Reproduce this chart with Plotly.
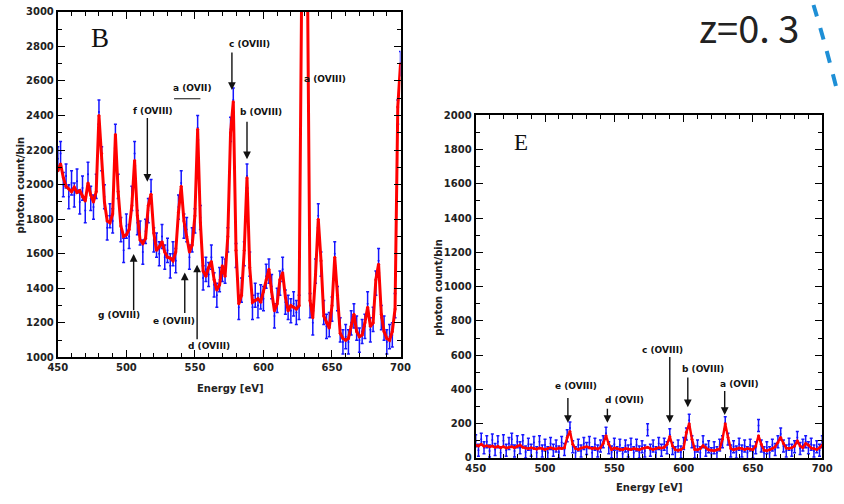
import numpy as np
import plotly.graph_objects as go

# ---------------- data ----------------
energy = list(range(450, 701, 2))  # bin centres [eV]

model_B = [2080, 2120, 2040, 1990, 1975, 1960, 1985, 1955, 1965, 1930,
           1905, 2010, 1940, 1900, 1960, 2400, 2180, 1900, 1790, 1780,
           1830, 2290, 1960, 1760, 1700, 1710, 1740, 1880, 2140, 1820,
           1680, 1660, 1690, 1880, 1945, 1720, 1620, 1640, 1670, 1610,
           1580, 1575, 1560, 1610, 1840, 1990, 1790, 1700, 1610, 1650,
           1820, 2320, 1780, 1500, 1470, 1520, 1555, 1450, 1390, 1420,
           1530, 1470, 1700, 2300, 2480, 1620, 1310, 1360, 1620, 2040,
           1520, 1320, 1330, 1340, 1320, 1380, 1450, 1510, 1380, 1270,
           1310, 1450, 1490, 1350, 1270, 1300, 1290, 1280, 1300, 3300,
           5200, 3300, 1330, 1230, 1480, 1800, 1560, 1240, 1200, 1170,
           1300, 1580, 1360, 1140, 1110, 1100, 1110, 1180, 1250, 1150,
           1120, 1130, 1200, 1290, 1180, 1200, 1450, 1540, 1250, 1150,
           1110, 1100, 1150, 1280, 2450, 2700]

data_B = [2150, 2180, 2000, 2050, 1930, 2010, 1940, 2020, 1900, 1980,
          1850, 2060, 1920, 1870, 1990, 2420, 2150, 1930, 1750, 1820,
          1790, 2280, 1990, 1740, 1620, 1760, 1700, 1920, 2180, 1780,
          1720, 1610, 1730, 1850, 1960, 1680, 1650, 1600, 1700, 1580,
          1620, 1530, 1600, 1560, 1870, 2010, 1760, 1740, 1580, 1680,
          1790, 2330, 1810, 1460, 1510, 1480, 1580, 1420, 1360, 1450,
          1510, 1500, 1680, 2320, 2490, 1590, 1290, 1390, 1600, 2050,
          1540, 1290, 1360, 1300, 1350, 1340, 1470, 1500, 1410, 1240,
          1330, 1430, 1510, 1320, 1290, 1270, 1310, 1260, 1290, 3550,
          5150, 3650, 1300, 1200, 1500, 1820, 1540, 1260, 1180, 1190,
          1280, 1600, 1340, 1160, 1090, 1120, 1090, 1200, 1240, 1170,
          1100, 1150, 1180, 1310, 1160, 1220, 1430, 1560, 1230, 1170,
          1090, 1120, 1130, 1300, 2420, 2700]
err_B = 70

model_E = [75, 70, 80, 68, 72, 65, 70, 62, 68, 60,
           66, 58, 62, 66, 60, 70, 75, 62, 58, 55,
           60, 56, 52, 58, 55, 50, 56, 60, 55, 52,
           58, 55, 60, 120, 155, 80, 55, 50, 58, 62,
           66, 60, 55, 58, 52, 60, 85, 130, 80, 50,
           58, 55, 50, 48, 55, 52, 50, 55, 52, 48,
           55, 58, 62, 55, 50, 55, 60, 58, 62, 80,
           125, 70, 48, 45, 50, 60, 150, 200, 110, 50,
           48, 55, 72, 60, 48, 45, 42, 48, 52, 110,
           200, 120, 55, 48, 52, 58, 55, 50, 55, 52,
           48, 70, 130, 80, 45, 42, 48, 55, 65, 90,
           120, 85, 58, 55, 60, 70, 100, 70, 60, 85,
           75, 58, 55, 50, 60, 75]

data_E = [100, 45, 110, 60, 95, 40, 105, 50, 95, 30,
          100, 45, 85, 110, 40, 95, 60, 100, 35, 80,
          45, 90, 30, 95, 40, 75, 30, 85, 45, 70,
          35, 90, 50, 130, 175, 65, 30, 75, 40, 85,
          55, 90, 30, 80, 40, 70, 95, 145, 60, 35,
          80, 30, 75, 25, 70, 40, 80, 30, 75, 35,
          65, 40, 165, 45, 70, 30, 85, 45, 80, 60,
          135, 55, 30, 70, 35, 85, 140, 220, 95, 35,
          70, 30, 95, 45, 65, 25, 60, 30, 75, 95,
          205, 110, 40, 65, 35, 80, 40, 70, 30, 75,
          35, 60, 190, 70, 30, 60, 30, 75, 50, 95,
          140, 70, 40, 80, 45, 65, 120, 55, 75, 95,
          60, 80, 40, 65, 45, 95]
err_E = 35

x_ticks = [450, 500, 550, 600, 650, 700]
yB_ticks = [1000, 1200, 1400, 1600, 1800, 2000, 2200, 2400, 2600, 2800, 3000]
yE_ticks = [0, 200, 400, 600, 800, 1000, 1200, 1400, 1600, 1800, 2000]

# line labels: (text, tip_x, tip_y, tail_y, text_x, text_y)
labels_B = [
    ("c (OVIII)", 577, 2548, 2774, 589.6, 2814),
    ("b (OVIII)", 588, 2147, 2373, 598.5, 2418),
    ("f (OVIII)", 515.3, 2017, 2395, 519.4, 2424),
    ("g (OVIII)", 505.3, 1599, 1265, 494.5, 1243),
    ("e (OVIII)", 542.6, 1491, 1249, 535.0, 1209),
    ("d (OVIII)", 551.6, 1537, 1096, 560.0, 1068),
]
labels_B_plain = [("a (OVII)", 548.6, 2559), ("a (OVIII)", 645.2, 2610)]
labels_E = [
    ("e (OVIII)", 516.5, 205, 359, 522, 422),
    ("d (OVII)", 545, 205, 296, 557, 336),
    ("c (OVIII)", 590, 205, 598, 585, 632),
    ("b (OVIII)", 603, 296, 479, 614, 518),
    ("a (OVII)", 629.6, 251, 399, 640, 433),
]

# ---------------- figure ----------------
W, H = 844, 504
fig = go.Figure()

def add_panel(xa, ya, data, model, err, lw):
    fig.add_trace(go.Scatter(
        x=energy, y=data, mode="markers", xaxis=xa, yaxis=ya,
        marker=dict(color="#1010ff", size=2),
        error_y=dict(type="constant", value=err, color="#1515ff",
                     thickness=1.5, width=1.5),
        showlegend=False, hoverinfo="skip"))
    fig.add_trace(go.Scatter(
        x=energy, y=model, mode="lines+markers", xaxis=xa, yaxis=ya,
        line=dict(color="#ff0000", width=lw),
        marker=dict(color="#ff0000", size=3),
        showlegend=False, hoverinfo="skip"))

add_panel("x", "y", data_B, model_B, err_B, 3)
add_panel("x2", "y2", data_E, model_E, err_E, 2.4)

tickfont = dict(family="DejaVu Sans", size=10, color="#222", weight="bold")
minor_x = dict(ticks="inside", ticklen=4, tickwidth=1, tickcolor="black", dtick=10)
minor_y = dict(ticks="inside", ticklen=4, tickwidth=1, tickcolor="black", dtick=100)
common = dict(showline=True, linewidth=2, linecolor="black", mirror=True,
              ticks="inside", ticklen=7, tickwidth=1.3, tickcolor="black",
              showgrid=False, zeroline=False, tickfont=tickfont)
overlay = dict(showline=False, ticks="inside", ticklen=7, tickwidth=1.3, tickcolor="black",
               showgrid=False, zeroline=False, showticklabels=False)

def px_x(p):
    return p / W

def px_y(p):
    return 1 - p / H

dBx = [px_x(49), px_x(400)]
dBy = [px_y(360), px_y(6)]
dEx = [px_x(477), px_x(832)]
dEy = [px_y(463), px_y(112)]

fig.update_layout(
    width=W, height=H, margin=dict(l=0, r=0, t=0, b=0),
    paper_bgcolor="white", plot_bgcolor="white", showlegend=False,
    xaxis=dict(domain=dBx, range=[450, 700], anchor="y", tickvals=x_ticks, minor=minor_x, **common),
    yaxis=dict(domain=dBy, range=[1000, 3000], anchor="x", tickvals=yB_ticks, minor=minor_y, **common),
    xaxis2=dict(domain=dEx, range=[450, 700], anchor="y2", tickvals=x_ticks, minor=minor_x, **common),
    yaxis2=dict(domain=dEy, range=[0, 2000], anchor="x2", tickvals=yE_ticks, minor=minor_y, **common),
    # top / right tick marks
    xaxis3=dict(overlaying="x", side="top", anchor="y", range=[450, 700], tickvals=x_ticks,
                minor=minor_x, **overlay),
    yaxis3=dict(overlaying="y", side="right", anchor="x", range=[1000, 3000], tickvals=yB_ticks,
                minor=minor_y, **overlay),
    xaxis4=dict(overlaying="x2", side="top", anchor="y2", range=[450, 700], tickvals=x_ticks,
                minor=minor_x, **overlay),
    yaxis4=dict(overlaying="y2", side="right", anchor="x2", range=[0, 2000], tickvals=yE_ticks,
                minor=minor_y, **overlay),
)
# invisible traces so the overlay axes are drawn
fig.add_trace(go.Scatter(x=[None], y=[None], xaxis="x3", yaxis="y3", showlegend=False))
fig.add_trace(go.Scatter(x=[None], y=[None], xaxis="x4", yaxis="y4", showlegend=False))

lab_font = dict(family="DejaVu Sans", size=9, color="#111", weight="bold")
ann = []
for (t, xt, yt, ytail, tx, ty) in labels_B:
    ann.append(dict(x=xt, y=yt, ax=xt, ay=ytail, xref="x", yref="y", axref="x", ayref="y",
                    text="", showarrow=True, arrowhead=2, arrowsize=1.1, arrowwidth=1.4,
                    arrowcolor="#111", standoff=0, startstandoff=0))
    ann.append(dict(x=tx, y=ty, xref="x", yref="y", text=t, showarrow=False,
                    font=lab_font, xanchor="center", yanchor="middle"))
for (t, tx, ty) in labels_B_plain:
    ann.append(dict(x=tx, y=ty, xref="x", yref="y", text=t, showarrow=False,
                    font=lab_font, xanchor="center", yanchor="middle"))
for (t, xt, yt, ytail, tx, ty) in labels_E:
    ann.append(dict(x=xt, y=yt, ax=xt, ay=ytail, xref="x2", yref="y2", axref="x2", ayref="y2",
                    text="", showarrow=True, arrowhead=2, arrowsize=1.1, arrowwidth=1.4,
                    arrowcolor="#111", standoff=0, startstandoff=0))
    ann.append(dict(x=tx, y=ty, xref="x2", yref="y2", text=t, showarrow=False,
                    font=lab_font, xanchor="center", yanchor="middle"))

title_font = dict(family="DejaVu Sans", size=10, color="#222", weight="bold")
ann += [
    dict(x=px_x(225), y=px_y(392), xref="paper", yref="paper", text="Energy [eV]",
         showarrow=False, font=title_font, xanchor="center", yanchor="middle"),
    dict(x=px_x(655), y=px_y(493), xref="paper", yref="paper", text="Energy [eV]",
         showarrow=False, font=title_font, xanchor="center", yanchor="middle"),
    dict(x=px_x(11), y=px_y(183), xref="paper", yref="paper", text="photon count/bin",
         showarrow=False, font=title_font, textangle=-90, xanchor="center", yanchor="middle"),
    dict(x=px_x(439), y=px_y(288), xref="paper", yref="paper", text="photon count/bin",
         showarrow=False, font=title_font, textangle=-90, xanchor="center", yanchor="middle"),
    dict(x=px_x(92), y=px_y(33), xref="paper", yref="paper", text="B",
         showarrow=False, font=dict(family="Liberation Serif", size=27, color="#111"),
         xanchor="center", yanchor="middle"),
    dict(x=px_x(523), y=px_y(140), xref="paper", yref="paper", text="E",
         showarrow=False, font=dict(family="Liberation Serif", size=23, color="#111"),
         xanchor="center", yanchor="middle"),
    dict(x=px_x(757), y=px_y(21), xref="paper", yref="paper", text="z=0. 3",
         showarrow=False, font=dict(family="Noto Sans CJK SC", size=38, color="#222"),
         xanchor="center", yanchor="middle"),
]
fig.update_layout(annotations=ann)

fig.add_shape(type="line", xref="x", yref="y", x0=534.8, x1=554, y0=2497, y1=2497,
              line=dict(color="#111", width=1.2))
fig.add_shape(type="path", xref="paper", yref="paper",
              path=f"M {px_x(823)},{px_y(-1)} Q {px_x(834)},{px_y(35)} {px_x(846)},{px_y(82)}",
              line=dict(color="#1e8fd6", width=4, dash="dash"))

fig.write_html("out.html")
